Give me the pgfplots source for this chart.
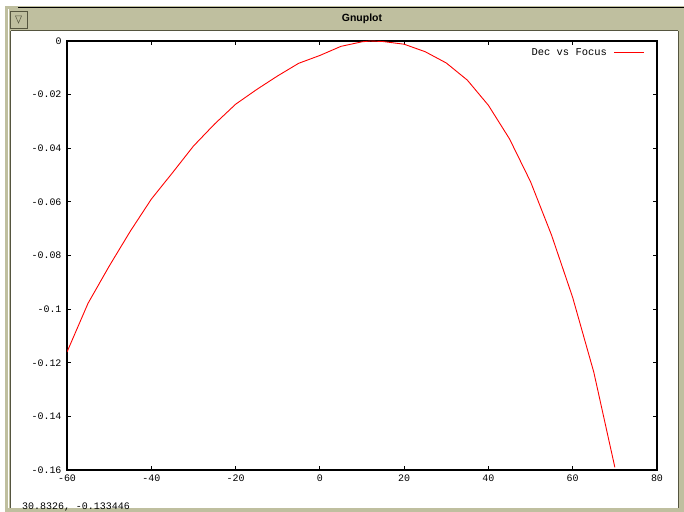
\documentclass[border=0pt]{standalone}
\usepackage{pgfplots}
\pgfplotsset{compat=1.18}
\usepackage{fontspec}
\setmainfont{Liberation Sans}
\setmonofont{Liberation Mono}
\definecolor{frame}{HTML}{BFBF9F}
\definecolor{framedark}{HTML}{55553F}
\begin{document}
\begin{tikzpicture}
\useasboundingbox (0bp,0bp) rectangle (684bp,512bp);
\begin{scope}[x=1bp,y=1bp]
\fill[white] (0,0) rectangle (684,512);
% window frame (y = 512 - pixel row)
\fill[frame] (5,506) rectangle (684,481);
\fill[frame] (5,506) rectangle (10,0);
\fill[frame] (679,506) rectangle (684,0);
\fill[frame] (5,4) rectangle (684,0);
\draw[black,line width=1.2bp] (18,504.5) -- (684,504.5);
\draw[framedark,line width=0.6bp] (10.5,481) -- (10.5,4);
\draw[framedark,line width=0.6bp] (678.5,481) -- (678.5,4);
\draw[white,line width=0.6bp] (8,503) -- (8,4);
\draw[framedark,line width=0.6bp] (11,481.5) -- (678,481.5);
% button
\draw[framedark,fill=frame,line width=0.6bp] (10,501) rectangle (27,484);
\draw[framedark,line width=0.5bp] (15.5,496) -- (21.5,496) -- (18.5,489) -- cycle;
\node[font=\bfseries\fontsize{10.5}{12}\selectfont] at (362,493) {Gnuplot};
% status line
\node[anchor=base west,font=\ttfamily\fontsize{10}{11}\selectfont,inner sep=0pt] at (22,3) {30.8326, -0.133446};
\end{scope}
\begin{axis}[
  at={(67bp,42bp)}, anchor=south west,
  scale only axis, width=590bp, height=429bp,
  xmin=-60, xmax=80, ymin=-0.16, ymax=0,
  xtick={-60,-40,...,80},
  ytick={-0.16,-0.14,...,0.001},
  tick align=inside,
  major tick length=4bp,
  axis line style={line width=1.4bp},
  tick style={line width=1.2bp, black},
  tick label style={font=\ttfamily\fontsize{10}{11}\selectfont},
  /pgf/number format/assume math mode=true,
  yticklabel style={/pgf/number format/fixed, /pgf/number format/precision=2, xshift=-2bp},
  xticklabel style={yshift=-1bp},
  legend style={at={(rel axis cs:1,1)}, xshift=-9bp, yshift=-3bp, anchor=north east,
    draw=none, fill=none, font=\ttfamily\fontsize{10.5}{12}\selectfont, legend cell align=right},
  legend plot pos=right,
  legend image code/.code={\draw[#1] (0bp,0bp) -- (30bp,0bp);},
]
\addplot[red, line width=0.9bp] coordinates {
(-60,-0.1160) (-55,-0.0978) (-50,-0.0840) (-45,-0.0710) (-40,-0.0590)
(-35,-0.0492) (-30,-0.0392) (-25,-0.0310) (-20,-0.0236) (-15,-0.0181)
(-10,-0.0130) (-5,-0.0083) (0,-0.0054) (5,-0.0020) (10,-0.0003)
(12,0.0000) (15,-0.0002) (20,-0.0012) (25,-0.0040) (30,-0.0082)
(35,-0.0146) (40,-0.0240) (45,-0.0365) (50,-0.0525) (55,-0.0725)
(60,-0.0957) (65,-0.1235) (70,-0.1590)
};
\addlegendentry{Dec vs Focus\rule{5bp}{0pt}}
\end{axis}
\end{tikzpicture}
\end{document}
